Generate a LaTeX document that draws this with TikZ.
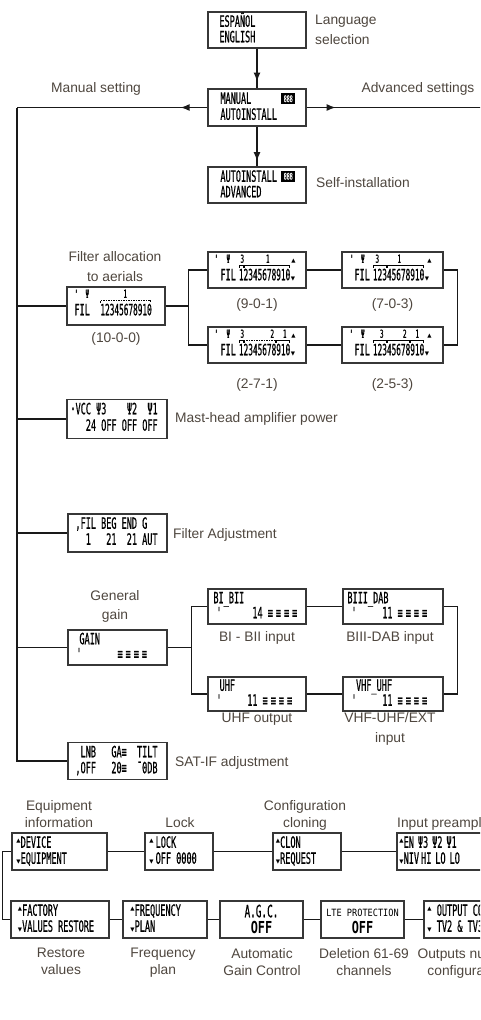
\documentclass[tikz,border=0pt]{standalone}
\usepackage{fontspec}
\setmainfont{Liberation Sans}
\newfontfamily\lcdf[FakeStretch=0.55,FakeBold=0.6]{DejaVu Sans Mono}
\newfontfamily\lcdnf[FakeStretch=0.5,FakeBold=0.6]{DejaVu Sans Mono}
\newfontfamily\lcdsf[FakeStretch=0.86]{DejaVu Sans Mono}
\newfontfamily\lcdbf[FakeStretch=0.72]{DejaVu Sans Mono}
\newfontfamily\symf{DejaVu Sans}
\usetikzlibrary{calc,arrows.meta,decorations.markings}
\definecolor{labcol}{RGB}{78,70,62}
\definecolor{boxcol}{RGB}{55,55,55}
\newcommand\up{{\symf\fontsize{5.5}{5.5}\selectfont\raisebox{5pt}{▲}}}
\newcommand\dn{{\symf\fontsize{5.5}{5.5}\selectfont ▼}}
\newcommand\bars{≡\hspace{3pt}≡\hspace{3pt}≡\hspace{3pt}≡}
\newcommand\lt[5]{\node[lcdt,anchor=base west] (#1) at ($(#2.north west)+(#3,#4)$) {#5};}
\newcommand\ft[4]{\node[lcdtop,anchor=base west] (#1) at ($(#2.north west)+(#3,11.5)$) {#4};}
\newcommand\fup[3]{\node[symtop,anchor=base west] (#1) at ($(#2.north west)+(#3,11.5)$) {▲};}
\newcommand\fdn[3]{\node[symtop,anchor=base west] (#1) at ($(#2.north west)+(#3,29)$) {▼};}
\newcommand\fdig[3]{\node[lcdn,anchor=base west] (#1) at ($(#2.north west)+(#3,29)$) {12345678910};}
\newcommand\brk[4][]{\draw[brk,#1] ($(#2.north west)+(#3,16.5)$) -- ++(0,-2.5) -- ($(#2.north west)+(#4,14)$) -- ++(0,2.5);}
\begin{document}
\begin{tikzpicture}[x=1pt,y=-1pt,
 lcdbox/.style={draw=boxcol, line width=1.5pt, fill=white, rectangle, inner sep=0pt},
 lcdt/.style={font=\lcdf\fontsize{15.5}{16}\selectfont, inner sep=0pt, text=black},
 lcdn/.style={font=\lcdnf\fontsize{15.5}{16}\selectfont, inner sep=0pt, text=black},
 lcdtop/.style={font=\lcdf\fontsize{11}{11}\selectfont, inner sep=0pt, text=black},
 symtop/.style={font=\symf\fontsize{5.5}{5.5}\selectfont, inner sep=0pt, text=black},
 icon/.style={fill=black, text=white, font=\lcdf\fontsize{9}{9}\selectfont, inner sep=0pt, minimum width=14, minimum height=11},
 lab/.style={font=\fontsize{13.8}{19.5}\selectfont, text=labcol, align=center, inner sep=0pt},
 labb/.style={font=\fontsize{13.8}{17.5}\selectfont, text=labcol, align=center, inner sep=0pt},
 conn/.style={line width=1.3pt, draw=black!90},
 brk/.style={line width=0.6pt},
 dsh/.style={dash pattern=on 1.5pt off 1pt},
 arrowmid/.style={postaction={decorate,decoration={markings,mark=at position #1 with {\arrow{Latex[length=9pt,width=7pt]}}}}},
]
\useasboundingbox (0,0) rectangle (480,1020);
\clip (0,0) rectangle (480,1020);

% ---------- boxes ----------
\node[lcdbox, minimum width=98, minimum height=36] (lang) at (257,30) {};
\node[lcdbox, minimum width=98, minimum height=37] (manual) at (257,107.5) {};
\node[lcdbox, minimum width=98, minimum height=36] (auto) at (257,185) {};
\node[lcdbox, minimum width=98, minimum height=38] (fil0) at (116,306) {};
\node[lcdbox, minimum width=98, minimum height=36] (f901) at (257,270) {};
\node[lcdbox, minimum width=101, minimum height=36] (f703) at (392.5,270) {};
\node[lcdbox, minimum width=98, minimum height=36] (f271) at (257,345) {};
\node[lcdbox, minimum width=101, minimum height=36] (f253) at (392.5,345) {};
\node[lcdbox, minimum width=100, minimum height=39] (vcc) at (117,419) {};
\node[lcdbox, minimum width=99, minimum height=38] (filadj) at (117.5,533) {};
\node[lcdbox, minimum width=99, minimum height=35] (gain) at (117.5,647.5) {};
\node[lcdbox, minimum width=98, minimum height=35] (bibii) at (257,606.5) {};
\node[lcdbox, minimum width=100, minimum height=35] (biii) at (393,606.5) {};
\node[lcdbox, minimum width=98, minimum height=34] (uhf) at (257,694) {};
\node[lcdbox, minimum width=100, minimum height=34] (vhf) at (393,694) {};
\node[lcdbox, minimum width=99, minimum height=37] (satif) at (117.5,761) {};
\node[lcdbox, minimum width=95, minimum height=37] (equip) at (59.5,851.5) {};
\node[lcdbox, minimum width=68, minimum height=37] (lock) at (179,851.5) {};
\node[lcdbox, minimum width=68, minimum height=37] (clon) at (307,851.5) {};
\node[lcdbox, minimum width=100, minimum height=37] (preamp) at (447,851.5) {};
\node[lcdbox, minimum width=98, minimum height=37] (factory) at (60,919.5) {};
\node[lcdbox, minimum width=84, minimum height=37] (freq) at (165,919.5) {};
\node[lcdbox, minimum width=83, minimum height=37] (agc) at (261.5,919.5) {};
\node[lcdbox, minimum width=83, minimum height=37] (lte) at (362.5,919.5) {};
\node[lcdbox, minimum width=100, minimum height=37] (outp) at (474,919.5) {};

% ---------- LCD texts ----------
\lt{langa}{lang}{12}{15.5}{ESPAÑOL}
\lt{langb}{lang}{12}{31}{ENGLISH}
\lt{mana}{manual}{13}{15.5}{MANUAL}
\lt{manb}{manual}{13}{31.5}{AUTOINSTALL}
\node[icon] (manic) at ($(manual.north west)+(81,10.5)$) {888};
\lt{autoa}{auto}{13}{15.5}{AUTOINSTALL}
\lt{autob}{auto}{13}{31}{ADVANCED}
\node[icon] (autoic) at ($(auto.north west)+(81,10)$) {888};

% filter 10-0-0
\ft{f0m}{fil0}{8}{'}
\ft{f0p}{fil0}{19}{Ψ}
\ft{f0l}{fil0}{57}{1}
\lt{f0f}{fil0}{8}{29}{FIL}
\fdig{f0d}{fil0}{34}
\brk[dsh]{fil0}{34.5}{84.5}
% filter 9-0-1
\ft{f1m}{f901}{7}{'}
\ft{f1p}{f901}{19}{Ψ}
\ft{f1a}{f901}{33}{3}
\ft{f1b}{f901}{58.5}{1}
\fup{f1u}{f901}{84}
\lt{f1f}{f901}{13}{29}{FIL}
\fdig{f1d}{f901}{31.5}
\fdn{f1v}{f901}{83.5}
\brk{f901}{32}{35.6}
\brk{f901}{36.6}{82}
% filter 7-0-3
\ft{f2m}{f703}{8.5}{'}
\ft{f2p}{f703}{19.5}{Ψ}
\ft{f2a}{f703}{34}{3}
\ft{f2b}{f703}{56}{1}
\fup{f2u}{f703}{86}
\lt{f2f}{f703}{13}{29}{FIL}
\fdig{f2d}{f703}{31.5}
\fdn{f2v}{f703}{83.5}
\brk{f703}{32}{45}
\brk{f703}{46}{82}
% filter 2-7-1
\ft{f3m}{f271}{7}{'}
\ft{f3p}{f271}{19}{Ψ}
\ft{f3a}{f271}{33}{3}
\ft{f3b}{f271}{63}{2}
\ft{f3c}{f271}{75.5}{1}
\fup{f3u}{f271}{84}
\lt{f3f}{f271}{13}{29}{FIL}
\fdig{f3d}{f271}{31.5}
\fdn{f3v}{f271}{83.5}
\brk{f271}{32}{35.6}
\brk[dsh]{f271}{36.6}{68}
\brk{f271}{69}{82}
% filter 2-5-3
\ft{f4m}{f253}{8}{'}
\ft{f4p}{f253}{19.5}{Ψ}
\ft{f4a}{f253}{38.5}{3}
\ft{f4b}{f253}{61.5}{2}
\ft{f4c}{f253}{74}{1}
\fup{f4u}{f253}{86}
\lt{f4f}{f253}{13}{29}{FIL}
\fdig{f4d}{f253}{31.5}
\fdn{f4v}{f253}{83.5}
\brk{f253}{32}{45}
\brk{f253}{46}{68}
\brk{f253}{69}{82}

\lt{vcca}{vcc}{4}{15.5}{·VCC~Ψ3~~~~Ψ2~~Ψ1}
\lt{vccb}{vcc}{4}{32}{~~~24~OFF~OFF~OFF}
\lt{fadja}{filadj}{8}{15.5}{,FIL~BEG~END~G}
\lt{fadjb}{filadj}{8}{31.5}{~~1~~~21~~21~AUT}
\lt{gaina}{gain}{12}{15}{GAIN}
\lt{gainb}{gain}{9}{30}{'~~~~~~~\bars}
\lt{biia}{bibii}{6}{15}{BI\_BII}
\lt{biib}{bibii}{9}{30}{'~~~~~~14~\bars}
\lt{biiia}{biii}{5}{15}{BIII\_DAB}
\lt{biiib}{biii}{9}{30}{'~~~~~11~\bars}
\lt{uhfa}{uhf}{7}{14.5}{~UHF}
\lt{uhfb}{uhf}{9}{29.5}{'~~~~~11~\bars}
\lt{vhfa}{vhf}{8.5}{14.5}{~VHF\_UHF}
\lt{vhfb}{vhf}{9}{29.5}{'~~~~~11~\bars}
\lt{sata}{satif}{8}{15.5}{~LNB~~~GA≡~~TILT}
\lt{satb}{satif}{8}{31.5}{,OFF~~~20≡~~¯0DB}

\lt{eqa}{equip}{5}{15.5}{\up DEVICE}
\lt{eqb}{equip}{5}{31.5}{\dn EQUIPMENT}
\lt{locka}{lock}{5}{15.5}{\up\hspace{2pt}LOCK}
\lt{lockb}{lock}{5}{31.5}{\dn\hspace{2pt}OFF~0000}
\lt{clona}{clon}{3.5}{15.5}{\up CLON}
\lt{clonb}{clon}{3.5}{31.5}{\dn REQUEST}
\lt{prea}{preamp}{3}{15.5}{\up EN\hspace{4pt}Ψ3\hspace{4pt}Ψ2\hspace{4pt}Ψ1}
\lt{preb}{preamp}{3}{31.5}{\dn NIV\hspace{2pt}HI\hspace{4pt}LO\hspace{4pt}LO}
\lt{facta}{factory}{7.5}{15.5}{\up FACTORY}
\lt{factb}{factory}{7.5}{31.5}{\dn VALUES~RESTORE}
\lt{freqa}{freq}{8}{15.5}{\up FREQUENCY}
\lt{freqb}{freq}{8}{31.5}{\dn PLAN}
\node[font=\lcdf\fontsize{17}{17}\selectfont, inner sep=0pt, anchor=base] (agca) at ($(agc.north)+(0,17)$) {A.G.C.};
\node[font=\lcdbf\bfseries\fontsize{16.5}{16.5}\selectfont, inner sep=0pt, anchor=base] (agcb) at ($(agc.north)+(0,33)$) {OFF};
\node[font=\lcdsf\fontsize{10}{10}\selectfont, inner sep=0pt, anchor=base] (ltea) at ($(lte.north)+(0,16)$) {LTE PROTECTION};
\node[font=\lcdbf\bfseries\fontsize{16.5}{16.5}\selectfont, inner sep=0pt, anchor=base] (lteb) at ($(lte.north)+(0,33)$) {OFF};
\lt{outa}{outp}{4}{15.5}{\up~OUTPUT~CONFIG}
\lt{outb}{outp}{4}{31.5}{\dn~TV2~\&~TV3}

% ---------- connectors ----------
\coordinate (mL) at (17,107.5);
\coordinate (mR) at (482,107.5);
\draw[conn, arrowmid=0.83] (lang.south) -- (manual.north);
\draw[conn, arrowmid=0.14] (manual.west) -- (mL);
\draw[conn, arrowmid=0.165] (manual.east) -- (mR);
\draw[conn, arrowmid=0.87] (manual.south) -- (auto.north);
\draw[conn] (mL) |- (satif.west);
\draw[conn] (fil0.west) -- (fil0.west -| mL);
\draw[conn] (vcc.west) -- (vcc.west -| mL);
\draw[conn] (filadj.west) -- (filadj.west -| mL);
\draw[conn] (gain.west) -- (gain.west -| mL);

\draw[conn] (fil0.east) -- ++(23,0) coordinate (fj);
\draw[conn] (f901.west) -| (fj) |- (f271.west);
\draw[conn] (f901.east) -- (f703.west);
\draw[conn] (f271.east) -- (f253.west);
\draw[conn] (f703.east) -- ++(14,0) |- (f253.east);

\draw[conn] (gain.east) -- ++(24,0) coordinate (gj);
\draw[conn] (bibii.west) -| (gj) |- (uhf.west);
\draw[conn] (bibii.east) -- (biii.west);
\draw[conn] (uhf.east) -- (vhf.west);
\draw[conn] (biii.east) -- ++(14,0) |- (vhf.east);

\draw[conn] (equip.east) -- (lock.west);
\draw[conn] (lock.east) -- (clon.west);
\draw[conn] (clon.east) -- (preamp.west);
\draw[conn] (equip.west) -- ++(-9,0) |- (factory.west);
\draw[conn] (factory.east) -- (freq.west);
\draw[conn] (freq.east) -- (agc.west);
\draw[conn] (agc.east) -- (lte.west);
\draw[conn] (lte.east) -- (outp.west);

% ---------- labels ----------
\node[lab, anchor=north west, align=left] (langlab) at (315,15) {Language\\selection};
\node[lab, anchor=base] (manlab) at (96,92) {Manual setting};
\node[lab, anchor=base] (advlab) at (418,92) {Advanced settings};
\node[lab, anchor=base west] (selflab) at (316,187) {Self-installation};
\node[lab, anchor=north] (fallab) at (115,251.5) {Filter allocation\\to aerials};
\node[lab, anchor=base] (l1000) at (116,342) {(10-0-0)};
\node[lab, anchor=base] (l901) at (257,308) {(9-0-1)};
\node[lab, anchor=base] (l703) at (392.5,308) {(7-0-3)};
\node[lab, anchor=base] (l271) at (257,388) {(2-7-1)};
\node[lab, anchor=base] (l253) at (392.5,388) {(2-5-3)};
\node[lab, anchor=base west] (vcclab) at (175,422.5) {Mast-head amplifier power};
\node[lab, anchor=base west] (fadjlab) at (173,538.5) {Filter Adjustment};
\node[lab, anchor=north] (genlab) at (115,590) {General\\gain};
\node[lab, anchor=base] (biilab) at (257,641) {BI - BII input};
\node[lab, anchor=base] (biiilab) at (390,641) {BIII-DAB input};
\node[lab, anchor=base] (uhflab) at (257,722.5) {UHF output};
\node[lab, anchor=north] (vhflab) at (390,712.5) {VHF-UHF/EXT\\input};
\node[lab, anchor=base west] (satlab) at (175,766) {SAT-IF adjustment};
\node[labb, anchor=north] (eqlab) at (59,800) {Equipment\\information};
\node[lab, anchor=base] (locklab) at (180,827) {Lock};
\node[labb, anchor=north] (clonlab) at (305,800) {Configuration\\cloning};
\node[lab, anchor=base west] (prelab) at (397,827) {Input preamplifiers};
\node[labb, anchor=north] (restlab) at (61,947.5) {Restore\\values};
\node[labb, anchor=north] (freqlab) at (163,947.5) {Frequency\\plan};
\node[labb, anchor=north] (agclab) at (262,948) {Automatic\\Gain Control};
\node[labb, anchor=north] (ltelab) at (364,948) {Deletion 61-69\\channels};
\node[labb, anchor=north] (outlab) at (467,948) {Outputs number\\configuration};
\end{tikzpicture}
\end{document}
